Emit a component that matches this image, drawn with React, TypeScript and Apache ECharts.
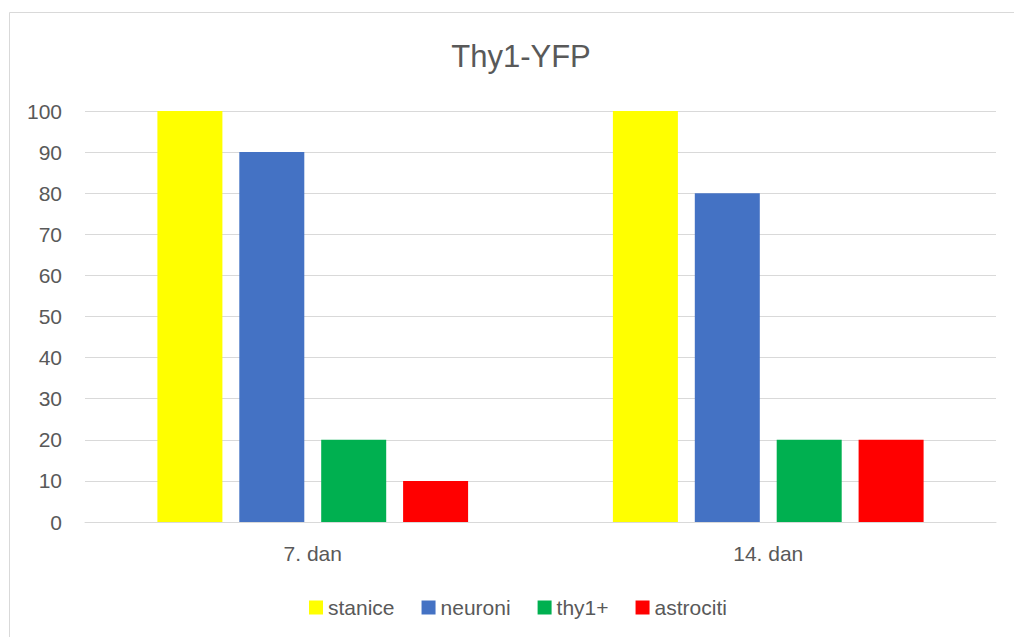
import React, { useEffect, useRef } from "react";
import * as echarts from "echarts";

const categories = ["7. dan", "14. dan"];
const seriesNames = ["stanice", "neuroni", "thy1+", "astrociti"];
const stanice = [100, 100];
const neuroni = [90, 80];
const thy1 = [20, 20];
const astrociti = [10, 20];
const colors = ["#FFFF00", "#4472C4", "#00B050", "#FF0000"];

export default function App() {
  const ref = useRef<HTMLDivElement>(null);
  useEffect(() => {
    if (!ref.current) return;
    const chart = echarts.init(ref.current, undefined, { renderer: "svg" });
    const values = [stanice, neuroni, thy1, astrociti];
    const font = "'Liberation Sans', Arial, sans-serif";
    chart.setOption({
      animation: false,
      textStyle: { fontFamily: font },
      title: {
        text: "Thy1-YFP",
        left: 516,
        textAlign: "center",
        top: 36,
        textStyle: { fontSize: 31, fontWeight: "normal", color: "#595959", fontFamily: font },
      },
      graphic: [
        {
          type: "rect",
          shape: { x: 9.5, y: 12.5, width: 1030, height: 650 },
          style: { fill: "none", stroke: "#d9d9d9", lineWidth: 1 },
          silent: true,
        },
      ],
      legend: {
        left: 309,
        top: 597,
        padding: 0,
        itemWidth: 14,
        itemHeight: 14,
        itemGap: 27,
        icon: "rect",
        textStyle: { fontSize: 21, color: "#595959", fontFamily: font },
        data: seriesNames,
      },
      grid: { left: 85, right: 18, top: 111, bottom: 115, containLabel: false },
      xAxis: {
        type: "category",
        data: categories,
        axisLine: { show: true, lineStyle: { color: "#d9d9d9", width: 1 } },
        axisTick: { show: false },
        axisLabel: { fontSize: 21, color: "#595959", margin: 21, fontFamily: font },
      },
      yAxis: {
        type: "value",
        min: 0,
        max: 100,
        interval: 10,
        axisLine: { show: false },
        axisTick: { show: false },
        splitLine: { lineStyle: { color: "#d9d9d9", width: 1 } },
        axisLabel: { fontSize: 21, color: "#595959", margin: 23, fontFamily: font },
      },
      series: seriesNames.map((name, i) => ({
        name,
        type: "bar",
        data: values[i],
        barWidth: 65,
        barGap: "26%",
        itemStyle: { color: colors[i] },
      })),
    });
    return () => chart.dispose();
  }, []);
  return (
    <div
      ref={ref}
      style={{ position: "absolute", left: 0, top: 0, width: 1014, height: 637, background: "#fff" }}
    />
  );
}
